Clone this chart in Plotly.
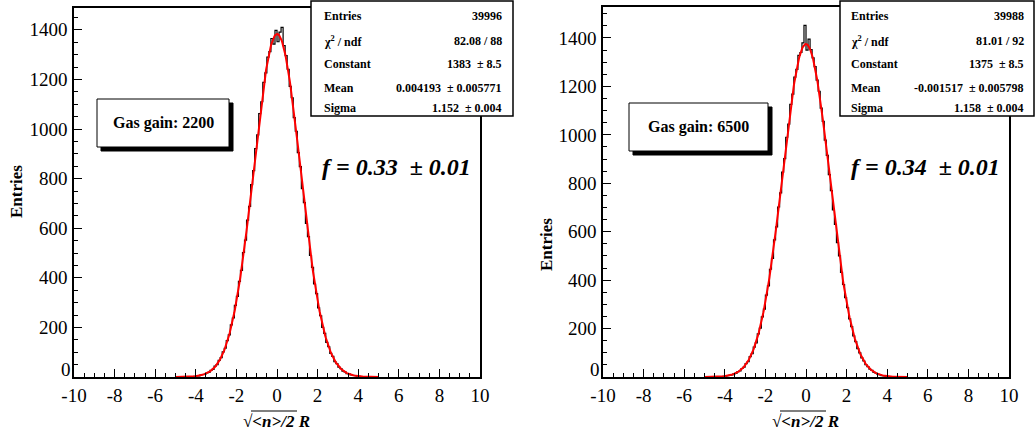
import numpy as np
import plotly.graph_objects as go

# ---------------- data ----------------
bin_centers = [round(-4.45 + 0.1 * i, 2) for i in range(90)]

counts_2200 = [1, 0, 2, 1, 3, 5, 4, 8, 10, 11, 17, 19, 27, 31, 44, 50, 67, 78, 101, 116,
               147, 170, 210, 238, 289, 325, 386, 430, 502, 552, 633, 688, 776, 832, 921, 976,
               1062, 1110, 1188, 1226, 1290, 1312, 1365, 1342, 1398, 1352, 1391, 1410, 1336, 1296,
               1241, 1172, 1126, 1046, 991, 905, 848, 760, 703, 619, 566, 490, 442, 375, 336, 279,
               247, 200, 176, 140, 122, 95, 83, 62, 54, 40, 34, 24, 21, 14, 13, 8, 7, 5, 3, 3,
               2, 1, 1, 0]

counts_6500 = [1, 1, 1, 2, 3, 4, 6, 7, 9, 13, 15, 22, 25, 35, 41, 55, 63, 84, 96, 123,
               141, 178, 202, 248, 280, 338, 376, 445, 490, 566, 620, 702, 760, 846, 902, 990,
               1044, 1126, 1168, 1238, 1270, 1328, 1340, 1380, 1452, 1350, 1395, 1352, 1318, 1282,
               1226, 1180, 1110, 1056, 978, 915, 836, 770, 690, 630, 555, 500, 432, 382, 328, 286,
               240, 208, 170, 146, 117, 100, 79, 66, 51, 43, 32, 27, 19, 16, 11, 9, 6, 5, 3, 2,
               2, 1, 0, 1]

# fit parameters (from stats boxes)
fit_2200 = {"constant": 1383, "mean": 0.004193, "sigma": 1.152}
fit_6500 = {"constant": 1375, "mean": -0.001517, "sigma": 1.158}
fit_range = (-5, 5)

stats_2200 = [("Entries", "39996"), ("χ<sup>2</sup> / ndf", "82.08 / 88"),
              ("Constant", "1383  ± 8.5"), ("Mean", "0.004193  ± 0.005771"),
              ("Sigma", "1.152  ± 0.004")]
stats_6500 = [("Entries", "39988"), ("χ<sup>2</sup> / ndf", "81.01 / 92"),
              ("Constant", "1375  ± 8.5"), ("Mean", "-0.001517  ± 0.005798"),
              ("Sigma", "1.158  ± 0.004")]

gains = ["2200", "6500"]
f_values = ["f = 0.33  ± 0.01", "f = 0.34  ± 0.01"]
y_max = [1488, 1528]

x_ticks = [-10, -8, -6, -4, -2, 0, 2, 4, 6, 8, 10]
x_ticklabels = ["-10", "-8", "-6", "-4", "-2", "0", "2", "4", "6", "8", "10"]
y_ticks = [200, 400, 600, 800, 1000, 1200, 1400]
y_ticklabels = ["200", "400", "600", "800", "1000", "1200", "1400"]

# ---------------- layout helpers ----------------
W, H = 1036, 433
FONT = "Liberation Serif"


def px(x):
    return x / W


def py(y):
    return 1 - y / H


fig = go.Figure()

panels = [
    dict(xa="x", ya="y", xdom=(74, 480), ydom=(377, 8), counts=counts_2200, fit=fit_2200,
         stats=stats_2200, sbox=(311, 1, 513, 116), slab=322, sval=504,
         gbox=(97, 99, 229, 147), fpos=(396, 167), xt=(276, 421), yt=(17, 192)),
    dict(xa="x2", ya="y2", xdom=(603, 1009), ydom=(377, 7), counts=counts_6500, fit=fit_6500,
         stats=stats_6500, sbox=(840, 1, 1034, 116), slab=849, sval=1026,
         gbox=(629, 103, 768, 151), fpos=(925, 167), xt=(805, 421), yt=(546, 245)),
]

shapes = []
annotations = []
for i, p in enumerate(panels):
    # histogram
    fig.add_trace(go.Scatter(x=bin_centers, y=p["counts"], mode="lines",
                             line=dict(color="black", width=1.2, shape="hvh"),
                             xaxis=p["xa"], yaxis=p["ya"], showlegend=False,
                             hoverinfo="skip"))
    # gaussian fit
    fx = np.linspace(fit_range[0], fit_range[1], 401)
    f = p["fit"]
    fy = f["constant"] * np.exp(-0.5 * ((fx - f["mean"]) / f["sigma"]) ** 2)
    fig.add_trace(go.Scatter(x=fx, y=fy, mode="lines",
                             line=dict(color="#ff0000", width=2),
                             xaxis=p["xa"], yaxis=p["ya"], showlegend=False,
                             hoverinfo="skip"))

    axis_common = dict(showgrid=False, zeroline=False, showline=True, linecolor="black",
                       linewidth=1.5, mirror=True, ticks="inside", ticklen=8, tickwidth=1,
                       tickcolor="black", automargin=False,
                       tickfont=dict(family=FONT, size=19, color="black"))
    xkey = "xaxis" if i == 0 else "xaxis2"
    ykey = "yaxis" if i == 0 else "yaxis2"
    fig.update_layout(**{
        xkey: dict(axis_common, domain=[px(p["xdom"][0]), px(p["xdom"][1])],
                   range=[-10, 10], tickmode="array", tickvals=x_ticks,
                   ticktext=x_ticklabels, anchor=p["ya"], ticklabelstandoff=0,
                   minor=dict(ticks="inside", ticklen=4, dtick=0.5, tick0=0,
                              tickcolor="black", tickwidth=1)),
        ykey: dict(axis_common, domain=[py(p["ydom"][0]), py(p["ydom"][1])],
                   range=[0, y_max[i]], tickmode="array", tickvals=y_ticks,
                   ticktext=y_ticklabels, anchor=p["xa"], ticklabelstandoff=1,
                   minor=dict(ticks="inside", ticklen=4, dtick=50, tick0=0,
                              tickcolor="black", tickwidth=1)),
    })
    # raised "0" label of the y axis (as in the reference)
    annotations.append(dict(x=px(p["xdom"][0] - 1), y=py(369), xref="paper", yref="paper",
                            text="0", showarrow=False, xanchor="right", yanchor="middle",
                            font=dict(family=FONT, size=19, color="black")))

    # stats box
    x0, y0, x1, y1 = p["sbox"]
    shapes.append(dict(type="rect", xref="paper", yref="paper",
                       x0=px(x0), x1=px(x1), y0=py(y1), y1=py(y0),
                       line=dict(color="black", width=1.5), fillcolor="white"))
    rows_y = [16, 41, 64, 88, 108]
    for (lab, val), ry in zip(p["stats"], rows_y):
        annotations.append(dict(x=px(p["slab"]), y=py(ry), xref="paper", yref="paper",
                                text=f"<b>{lab}</b>", showarrow=False, xanchor="left",
                                yanchor="middle",
                                font=dict(family=FONT, size=12, color="black")))
        annotations.append(dict(x=px(p["sval"]), y=py(ry), xref="paper", yref="paper",
                                text=f"<b>{val}</b>", showarrow=False, xanchor="right",
                                yanchor="middle",
                                font=dict(family=FONT, size=12, color="black")))

    # gas gain box with shadow
    gx0, gy0, gx1, gy1 = p["gbox"]
    shapes.append(dict(type="rect", xref="paper", yref="paper",
                       x0=px(gx0 + 4), x1=px(gx1 + 4), y0=py(gy1 + 4), y1=py(gy0 + 4),
                       line=dict(color="black", width=1), fillcolor="black"))
    shapes.append(dict(type="rect", xref="paper", yref="paper",
                       x0=px(gx0), x1=px(gx1), y0=py(gy1), y1=py(gy0),
                       line=dict(color="black", width=1), fillcolor="white"))
    annotations.append(dict(x=px((gx0 + gx1) / 2), y=py((gy0 + gy1) / 2), xref="paper",
                            yref="paper", text=f"<b>Gas gain: {gains[i]}</b>", showarrow=False,
                            xanchor="center", yanchor="middle",
                            font=dict(family=FONT, size=16, color="black")))

    # f value
    annotations.append(dict(x=px(p["fpos"][0]), y=py(p["fpos"][1]), xref="paper",
                            yref="paper", text=f"<b><i>{f_values[i]}</i></b>",
                            showarrow=False, xanchor="center", yanchor="middle",
                            font=dict(family=FONT, size=24, color="black")))

    # axis titles
    xt, yt = p["xt"]
    annotations.append(dict(x=px(xt), y=py(yt), xref="paper", yref="paper",
                            text="<b><i>√&lt;n&gt;/2 R</i></b>", showarrow=False,
                            xanchor="center", yanchor="middle",
                            font=dict(family=FONT, size=17, color="black")))
    shapes.append(dict(type="line", xref="paper", yref="paper",
                       x0=px(xt - 25), x1=px(xt + 21), y0=py(yt - 10), y1=py(yt - 10),
                       line=dict(color="black", width=1.2)))
    ytx, yty = p["yt"]
    annotations.append(dict(x=px(ytx), y=py(yty), xref="paper", yref="paper",
                            text="<b>Entries</b>", showarrow=False, textangle=-90,
                            xanchor="center", yanchor="middle",
                            font=dict(family=FONT, size=17, color="black")))

fig.update_layout(width=W, height=H, margin=dict(l=0, r=0, t=0, b=0),
                  paper_bgcolor="white", plot_bgcolor="white",
                  shapes=shapes, annotations=annotations, showlegend=False)

fig.write_html("out.html", config={"displayModeBar": False},
               post_script="document.body.style.margin='0';document.body.style.overflow='hidden';")
